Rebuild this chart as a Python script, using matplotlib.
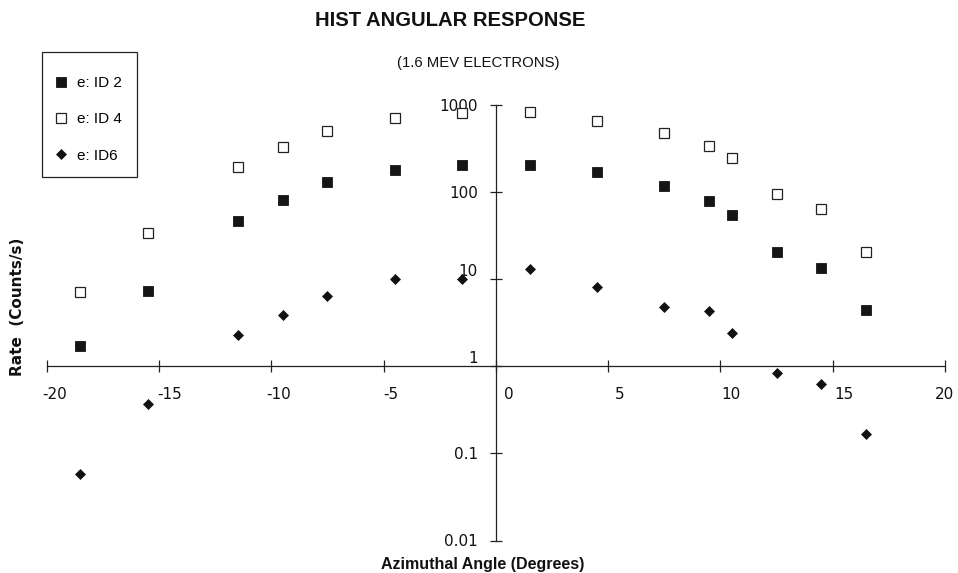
import matplotlib
matplotlib.use("Agg")
import matplotlib.pyplot as plt
from matplotlib.ticker import NullLocator, FixedLocator
from matplotlib.transforms import ScaledTranslation
from matplotlib.patches import Rectangle

# ---- data ----
angles = [-18.5, -15.5, -11.5, -9.5, -7.5, -4.5, -1.5, 1.5, 4.5, 7.5, 9.5, 10.5, 12.5, 14.5, 16.5]
id2 = [1.70, 7.3, 46, 81, 130, 179, 206, 203, 170, 119, 80, 55, 20.3, 13.3, 4.4]
id4 = [7.15, 34, 192, 326, 507, 703, 803, 831, 650, 473, 340, 244, 95, 64, 20.3]
id6 = [0.058, 0.373, 2.31, 3.93, 6.33, 10.1, 10.1, 13.1, 8.15, 4.8, 4.29, 2.44, 0.84, 0.62, 0.165]
series_labels = ["e: ID 2", "e: ID 4", "e: ID6"]
xticks = [-20, -15, -10, -5, 0, 5, 10, 15, 20]
yticks = [0.01, 0.1, 1, 10, 100, 1000]
ytick_labels = ["0.01", "0.1", "1", "10", "100", "1000"]

W, H = 958, 573
fig = plt.figure(figsize=(W / 100, H / 100), dpi=100)
fig.patch.set_facecolor("white")

left, right = 46.7, 945.0
top, bottom = 105.0, 540.5
ax = fig.add_axes([left / W, 1 - bottom / H, (right - left) / W, (bottom - top) / H])
ax.set_facecolor("white")
ax.set_xlim(-20, 20)
ax.set_yscale("log")
ax.set_ylim(0.01, 1000)

ax.plot(angles, id2, linestyle="none", marker="s", markersize=6.5,
        markerfacecolor="#151515", markeredgecolor="#151515", markeredgewidth=0.6,
        label=series_labels[0])
ax.plot(angles, id4, linestyle="none", marker="s", markersize=6.7,
        markerfacecolor="white", markeredgecolor="#222222", markeredgewidth=0.9,
        label=series_labels[1])
ax.plot(angles, id6, linestyle="none", marker="D", markersize=4.8,
        markerfacecolor="#111111", markeredgecolor="#111111", markeredgewidth=0.5,
        label=series_labels[2])

# axes through origin
for s in ["top", "right"]:
    ax.spines[s].set_visible(False)
ax.spines["left"].set_position(("data", 0))
ax.spines["bottom"].set_position(("data", 1))
for s in ["left", "bottom"]:
    ax.spines[s].set_linewidth(0.9)
    ax.spines[s].set_color("#222222")

ax.xaxis.set_major_locator(FixedLocator(xticks))
ax.set_xticklabels([str(v) for v in xticks])
ax.yaxis.set_major_locator(FixedLocator(yticks))
ax.yaxis.set_minor_locator(NullLocator())
ax.set_yticklabels(ytick_labels)

ax.tick_params(axis="both", direction="inout", length=8, width=0.9, color="#222222",
               labelsize=11, labelcolor="#111111")
ax.tick_params(axis="x", pad=11)
ax.tick_params(axis="y", pad=9)
for lab in ax.get_xticklabels() + ax.get_yticklabels():
    lab.set_fontfamily("DejaVu Sans")

x_shift = {-20: 8, -15: 11, -10: 7, -5: 7, 0: 13, 5: 12, 10: 11, 15: 11, 20: -1}
for lab, v in zip(ax.get_xticklabels(), xticks):
    lab.set_transform(lab.get_transform() +
                      ScaledTranslation(x_shift[v] / 100, 0, fig.dpi_scale_trans))
raise_px = {"10": 9, "1": 9}
for lab, txt in zip(ax.get_yticklabels(), ytick_labels):
    dy = raise_px.get(txt, 0)
    if dy:
        lab.set_transform(lab.get_transform() + ScaledTranslation(0, dy / 100, fig.dpi_scale_trans))

# legend (entries placed without frame; frame drawn as a separate box)
leg = ax.legend(loc="upper left", bbox_to_anchor=(42 / W, 1 - 61 / H),
                bbox_transform=fig.transFigure, borderaxespad=0, frameon=False,
                handlelength=0.5, handletextpad=0.8, labelspacing=1.45, borderpad=1.0,
                prop={"family": "Liberation Sans", "size": 11})
fig.patches.append(Rectangle((42 / W, 1 - 177 / H), 95 / W, 125 / H,
                             transform=fig.transFigure, fill=False,
                             edgecolor="#222222", linewidth=0.9))

# titles and labels
fig.text(450 / W, 1 - 21 / H, "HIST ANGULAR RESPONSE", ha="center", va="center",
         fontsize=14.6, fontweight="bold", family="Liberation Sans", color="#111111")
fig.text(478 / W, 1 - 63 / H, "(1.6 MEV ELECTRONS)", ha="center", va="center",
         fontsize=10.7, family="Liberation Sans", color="#111111")
fig.text(18 / W, 1 - 307 / H, "Rate  (Counts/s)", ha="center", va="center", rotation=90,
         fontsize=11, fontweight="bold", family="DejaVu Sans", color="#111111")
fig.text(483 / W, 1 - 565 / H, "Azimuthal Angle (Degrees)", ha="center", va="center",
         fontsize=11.5, fontweight="bold", family="Liberation Sans",
         color="#111111")

fig.savefig("out.png", dpi=100, facecolor="white")
